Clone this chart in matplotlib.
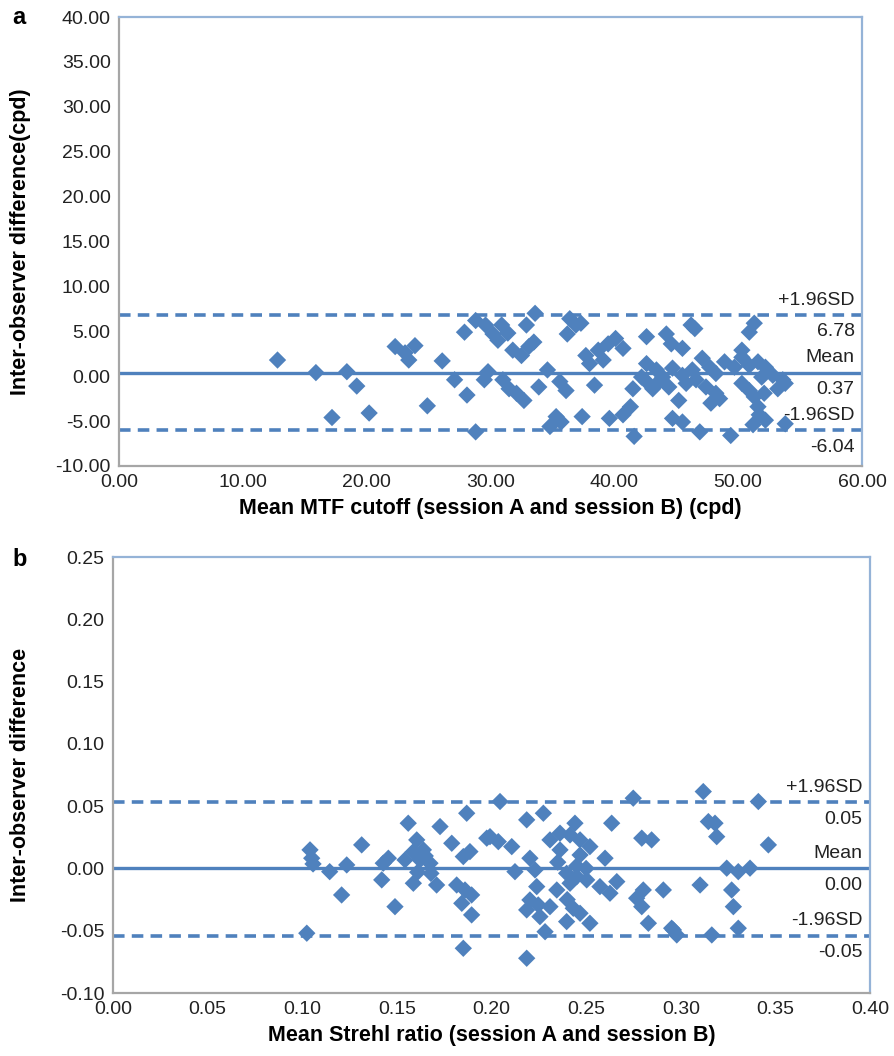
import matplotlib
matplotlib.use("Agg")
import matplotlib.pyplot as plt
from matplotlib.ticker import MultipleLocator, FormatStrFormatter

plt.rcParams['font.family'] = ['Liberation Sans', 'DejaVu Sans']

# ---------------- Panel a data ----------------
a_mean = [12.8, 15.9, 18.4, 19.2, 17.2, 20.2, 22.3, 23.1, 23.9, 23.4, 24.9, 26.1, 27.1,
          27.9, 28.8, 28.1, 28.8,
          29.6, 30.2, 30.9, 31.4, 30.6, 31.8, 32.5, 32.9, 33.6, 33.5, 33.1, 36.4, 36.9, 36.2, 37.3,
          29.8, 29.5, 31.0, 31.5, 32.1, 32.7, 33.9, 34.6, 35.6, 36.1, 35.3, 35.7, 34.8, 37.4,
          38.4, 38.0, 37.7, 38.7, 39.5, 40.1, 40.7, 39.1, 39.6, 40.7, 41.3, 41.5, 42.2, 41.6,
          42.6, 44.2, 44.6, 45.5, 46.5, 46.2, 51.3, 50.9, 50.3, 42.6, 43.4, 43.9, 44.7, 45.5,
          46.3, 47.1, 47.7, 48.2, 48.9, 49.7, 50.3, 50.9, 51.6, 52.2, 51.9, 52.8, 53.6, 53.2,
          53.8, 42.6, 43.1, 43.6, 44.4, 45.2, 45.8, 46.6, 47.4, 48.2, 47.8, 48.5, 50.3, 50.9,
          51.3, 51.6, 51.7, 52.1, 44.7, 45.5, 46.9, 49.4, 51.2, 53.8, 52.2]
a_diff = [1.8, 0.4, 0.5, -1.1, -4.6, -4.1, 3.3, 2.6, 3.4, 1.8, -3.3, 1.7, -0.4,
          4.9, 6.2, -2.1, -6.2,
          5.7, 4.7, 5.7, 4.8, 4.0, 2.9, 2.3, 5.7, 7.0, 3.8, 3.3, 6.4, 5.7, 4.7, 5.9,
          0.5, -0.4, -0.4, -1.4, -1.9, -2.7, -1.2, 0.7, -0.6, -1.6, -4.5, -5.1, -5.6, -4.5,
          -1.0, 1.4, 2.3, 2.9, 3.6, 4.2, 3.1, 1.8, -4.7, -4.3, -3.4, -1.4, -0.1, -6.7,
          4.4, 4.7, 3.6, 3.1, 5.3, 5.7, 5.9, 4.9, 2.9, 1.4, 0.7, -0.1, 0.9, 0.1,
          0.7, 2.0, 1.0, 0.3, 1.6, 1.0, 2.1, 1.2, 1.6, 1.0, -0.1, 0.1, -0.4, -1.4,
          -0.8, -0.6, -1.4, -0.6, -1.2, -2.7, -0.8, -0.4, -1.2, -1.9, -3.0, -2.5, -0.8, -1.6,
          -2.3, -3.4, -4.3, -1.9, -4.7, -5.1, -6.2, -6.6, -5.4, -5.3, -4.9]
a_bias = 0.37
a_upper = 6.78
a_lower = -6.04
a_labels = ["+1.96SD", "6.78", "Mean", "0.37", "-1.96SD", "-6.04"]

# ---------------- Panel b data ----------------
b_mean = [0.1041, 0.1050, 0.1057, 0.1145, 0.1235, 0.1208, 0.1314, 0.1420, 0.1455, 0.1428,
          0.1490, 0.1560, 0.1605, 0.1587, 0.1622, 0.1543, 0.1640, 0.1675, 0.1587, 0.1710,
          0.1728, 0.1790, 0.1869, 0.1851, 0.1886, 0.1816, 0.1860, 0.1895, 0.1843, 0.1895,
          0.1024, 0.1851, 0.1975, 0.165, 0.168, 0.161,
          0.2045, 0.2749, 0.2186, 0.2274, 0.1992, 0.2036, 0.2107, 0.2309, 0.2362, 0.2441,
          0.2415, 0.2468, 0.2520, 0.2362, 0.2468, 0.2635, 0.2794, 0.2846, 0.2203, 0.2600,
          0.2124, 0.2230, 0.2397, 0.2450, 0.2503, 0.2239, 0.2345, 0.2415, 0.2573, 0.2626,
          0.2662, 0.2802, 0.2908, 0.2767, 0.2794, 0.2203, 0.2247, 0.2309, 0.2186, 0.2256,
          0.2397, 0.2432, 0.2520, 0.2468, 0.2283, 0.2829, 0.2952, 0.2979, 0.2186,
          0.245, 0.235, 0.250, 0.240,
          0.3119, 0.3410, 0.3146, 0.3181, 0.3190, 0.3463, 0.3243, 0.3304, 0.3366, 0.3102,
          0.3269, 0.3278, 0.3304, 0.3164, 0.2961]
b_diff = [0.0149, 0.0082, 0.0036, -0.0026, 0.0028, -0.0213, 0.0189, -0.0092, 0.0082, 0.0042,
          -0.0307, 0.0363, 0.0229, 0.0135, 0.0068, 0.0068, 0.0149, 0.0042, -0.0119, -0.0133,
          0.0336, 0.0202, 0.0443, 0.0095, 0.0135, -0.0133, -0.0173, -0.0213, -0.0280, -0.0373,
          -0.0520, -0.0641, 0.0243, 0.010, -0.004, -0.003,
          0.0537, 0.0564, 0.0390, 0.0443, 0.0255, 0.0215, 0.0175, 0.0229, 0.0283, 0.0363,
          0.0269, 0.0229, 0.0175, 0.0149, 0.0108, 0.0363, 0.0243, 0.0229, 0.0082, 0.0082,
          -0.0026, -0.0012, -0.0039, -0.0066, -0.0092, -0.0146, -0.0173, -0.0119, -0.0146, -0.0199,
          -0.0106, -0.0173, -0.0173, -0.0239, -0.0307, -0.0253, -0.0293, -0.0307, -0.0333, -0.0387,
          -0.0427, -0.0320, -0.0440, -0.0360, -0.0508, -0.0440, -0.0480, -0.0534, -0.0721,
          0.002, 0.005, 0.000, -0.025,
          0.0617, 0.0537, 0.0376, 0.0363, 0.0255, 0.0189, 0.0002, -0.0026, 0.0002, -0.0133,
          -0.0173, -0.0307, -0.0480, -0.0534, -0.0494]
b_bias = 0.0
b_upper = 0.053
b_lower = -0.054
b_labels = ["+1.96SD", "0.05", "Mean", "0.00", "-1.96SD", "-0.05"]

BLUE = '#4F81BD'
W, H = 894, 1056
fig = plt.figure(figsize=(W / 100, H / 100), dpi=100)


def px_axes(left, right, top, bottom):
    return fig.add_axes([left / W, 1 - bottom / H, (right - left) / W, (bottom - top) / H])


def draw(ax, xs, ys, bias, upper, lower, labels, xlim, ylim, xstep, ystep, fmt, xlabel, ylabel, ylab_x):
    ax.set_xlim(*xlim)
    ax.set_ylim(*ylim)
    ax.axhline(upper, color=BLUE, lw=2.6, ls=(0, (3.2, 2.0)), zorder=2)
    ax.axhline(lower, color=BLUE, lw=2.6, ls=(0, (3.2, 2.0)), zorder=2)
    ax.axhline(bias, color=BLUE, lw=2.4, zorder=2)
    ax.scatter(xs, ys, marker='D', s=78, color=BLUE, edgecolors='none', zorder=3)
    ax.xaxis.set_major_locator(MultipleLocator(xstep))
    ax.yaxis.set_major_locator(MultipleLocator(ystep))
    ax.xaxis.set_major_formatter(FormatStrFormatter(fmt))
    ax.yaxis.set_major_formatter(FormatStrFormatter(fmt))
    ax.tick_params(length=0, labelsize=14, colors='#222222', pad=6)
    for s in ('left', 'bottom'):
        ax.spines[s].set_color('#A6A6A6')
        ax.spines[s].set_linewidth(1.6)
    for s in ('top', 'right'):
        ax.spines[s].set_color('#95B3D7')
        ax.spines[s].set_linewidth(1.6)
    ax.set_xlabel(xlabel, fontsize=15.5, fontweight='bold', labelpad=5)
    ax.set_ylabel(ylabel, fontsize=15.5, fontweight='bold')
    ax.yaxis.set_label_coords(ylab_x, 0.5)
    trans = ax.get_yaxis_transform()
    for val, (above, below) in zip([upper, bias, lower], [(labels[0], labels[1]), (labels[2], labels[3]), (labels[4], labels[5])]):
        ax.annotate(above, xy=(0.99, val), xycoords=trans, xytext=(0, 11), textcoords='offset points',
                    ha='right', va='center', fontsize=14, color='#222222')
        ax.annotate(below, xy=(0.99, val), xycoords=trans, xytext=(0, -12), textcoords='offset points',
                    ha='right', va='center', fontsize=14, color='#222222')


ax1 = px_axes(119, 862, 17, 466)
draw(ax1, a_mean, a_diff, a_bias, a_upper, a_lower, a_labels, (0, 60), (-10, 40), 10, 5, '%.2f',
     'Mean MTF cutoff (session A and session B) (cpd)', 'Inter-observer difference(cpd)', -0.118)
ax2 = px_axes(113, 870, 557, 993)
draw(ax2, b_mean, b_diff, b_bias, b_upper, b_lower, b_labels, (0, 0.40), (-0.10, 0.25), 0.05, 0.05, '%.2f',
     'Mean Strehl ratio (session A and session B)', 'Inter-observer difference', -0.108)

fig.text(12 / W, 1 - 17 / H, 'a', fontsize=17, fontweight='bold', va='center', ha='left')
fig.text(12 / W, 1 - 560 / H, 'b', fontsize=17, fontweight='bold', va='center', ha='left')

fig.savefig('out.png', dpi=100)
